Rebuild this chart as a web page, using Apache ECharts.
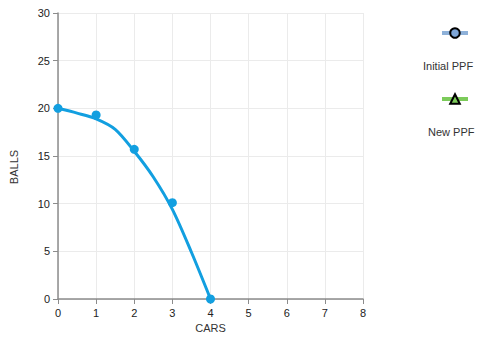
<!DOCTYPE html>
<html>
<head>
<meta charset="utf-8">
<script src="https://cdn.jsdelivr.net/npm/echarts@6/dist/echarts.min.js"></script>
<style>
  html, body { margin: 0; padding: 0; background: #fff; }
  #chart { width: 483px; height: 340px; }
</style>
</head>
<body>
<div id="chart"></div>
<script>
const xTicks = [0, 1, 2, 3, 4, 5, 6, 7, 8]
const yTicks = [0, 5, 10, 15, 20, 25, 30]

// plotted points
const pointCars = [0, 1, 2, 3, 4]
const pointBalls = [20, 19.3, 15.7, 10.1, 0]

// the drawn PPF curve, read along its path
const curveCars = [0, 0.5, 1, 1.5, 2, 2.5, 3, 3.5, 4]
const curveBalls = [20, 19.5, 18.9, 17.8, 15.5, 12.8, 9.4, 4.9, 0]

const legendNames = ['Initial PPF', 'New PPF']

const blue = '#129fe0'
const chart = echarts.init(document.getElementById('chart'), null, { renderer: 'svg' })

const axisLine = { lineStyle: { color: '#8c8c8c', width: 1.5 } }
const font = 'Liberation Sans, Arial, sans-serif'

chart.setOption({
  animation: false,
  textStyle: { fontFamily: font },
  grid: { left: 57, right: 120, top: 13, bottom: 41 },
  legend: [
    {
      data: [legendNames[0]],
      left: 435, top: 22,
      itemWidth: 26, itemHeight: 12,
      formatter: () => '',
      lineStyle: { width: 4 },
      selectedMode: false
    },
    {
      data: [legendNames[1]],
      left: 435, top: 88,
      itemWidth: 26, itemHeight: 12,
      formatter: () => '',
      lineStyle: { width: 4 },
      selectedMode: false
    }
  ],
  graphic: [
    { type: 'text', left: 423, top: 60, style: { text: legendNames[0], font: '11px ' + font, fill: '#333' } },
    { type: 'text', left: 428, top: 126, style: { text: legendNames[1], font: '11px ' + font, fill: '#333' } }
  ],
  xAxis: {
    type: 'value',
    min: xTicks[0], max: xTicks[xTicks.length - 1], interval: 1,
    name: 'CARS', nameLocation: 'middle', nameGap: 20,
    nameTextStyle: { color: '#333', fontSize: 11 },
    axisLine,
    axisTick: { show: true, length: 5, lineStyle: { color: '#8c8c8c' } },
    axisLabel: { color: '#222', fontSize: 11, margin: 8 },
    splitLine: { lineStyle: { color: '#ebebeb' } }
  },
  yAxis: {
    type: 'value',
    min: yTicks[0], max: yTicks[yTicks.length - 1], interval: 5,
    name: 'BALLS', nameLocation: 'middle', nameGap: 39,
    nameTextStyle: { color: '#333', fontSize: 11, padding: [0, 0, 0, -22] },
    axisLine,
    axisTick: { show: true, length: 5, lineStyle: { color: '#8c8c8c' } },
    axisLabel: { color: '#222', fontSize: 11, margin: 8 },
    splitLine: { lineStyle: { color: '#ebebeb' } }
  },
  series: [
    {
      name: 'curve',
      type: 'line',
      data: curveCars.map((c, i) => [c, curveBalls[i]]),
      smooth: 0.3,
      showSymbol: false,
      lineStyle: { color: blue, width: 3 },
      z: 2
    },
    {
      name: 'points',
      type: 'scatter',
      data: pointCars.map((c, i) => [c, pointBalls[i]]),
      symbolSize: 9,
      itemStyle: { color: blue, opacity: 1 },
      z: 3
    },
    {
      name: legendNames[0],
      type: 'line',
      data: [],
      symbol: 'circle',
      symbolSize: 10,
      lineStyle: { color: '#8eb1d9', width: 4 },
      itemStyle: { color: '#7ea6d8', borderColor: '#000', borderWidth: 2 }
    },
    {
      name: legendNames[1],
      type: 'line',
      data: [],
      symbol: 'triangle',
      symbolSize: 10,
      lineStyle: { color: '#7ccb5a', width: 4 },
      itemStyle: { color: '#7ccb5a', borderColor: '#000', borderWidth: 2 }
    }
  ]
})
</script>
</body>
</html>
